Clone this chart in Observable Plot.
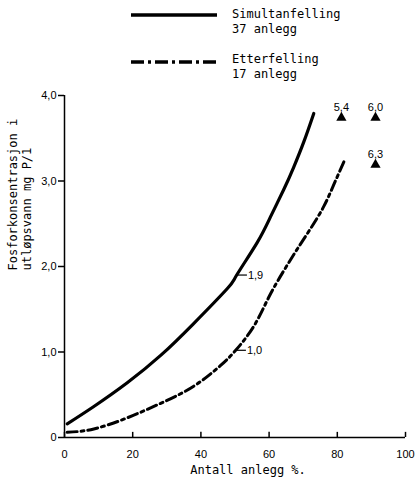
<!DOCTYPE html>
<html><head><meta charset="utf-8">
<script src="https://cdn.jsdelivr.net/npm/d3@7"></script>
<script src="https://cdn.jsdelivr.net/npm/@observablehq/plot@0.6"></script>
<style>
body{margin:0;background:#fff;}
#wrap{position:relative;width:416px;height:483px;}
#legend{position:absolute;left:0;top:0;}
</style></head><body>
<div id="wrap"><div id="chart"></div><div id="legend"></div></div>
<script>
// Data
const simX = [0.8, 8.5, 18.4, 28.2, 37.8, 47.7, 50.5, 56.5, 60.4, 64.3, 67.2, 70.2, 73.1];
const simY = [0.16, 0.36, 0.64, 0.96, 1.33, 1.74, 1.9, 2.28, 2.58, 2.9, 3.16, 3.46, 3.79];
const etterX = [0.8, 8.6, 18.4, 28.2, 37.9, 45.7, 50.2, 55.5, 59.9, 64.3, 68.2, 72.1, 76.0, 79.0, 82.0];
const etterY = [0.06, 0.10, 0.23, 0.40, 0.60, 0.84, 1.02, 1.30, 1.64, 1.95, 2.20, 2.44, 2.70, 2.96, 3.23];
const triX = [81.2, 91.2, 91.2];
const triY = [3.74, 3.74, 3.19];
const triLabels = ["5,4", "6,0", "6,3"];
const annX = [50.5, 50.2];
const annY = [1.9, 1.02];
const annLabels = ["1,9", "1,0"];
const xTicks = [0, 20, 40, 60, 80, 100];
const xTickLabels = ["0", "20", "40", "60", "80", "100"];
const yTicks = [0, 1, 2, 3, 4];
const yTickLabels = ["0", "1,0", "2,0", "3,0", "4,0"];
const seriesNames = ["Simultanfelling", "Etterfelling"];
const seriesCounts = ["37 anlegg", "17 anlegg"];
const xLabel = "Antall anlegg %.";
const yLabel = "Fosforkonsentrasjon i\nutløpsvann mg P/1";

const sim = simX.map((x, i) => ({x, y: simY[i]}));
const etter = etterX.map((x, i) => ({x, y: etterY[i]}));
const tri = triX.map((x, i) => ({x, y: triY[i], label: triLabels[i]}));
const ann = annX.map((x, i) => ({x, y: annY[i], label: annLabels[i]}));
const xMap = new Map(xTicks.map((t, i) => [t, xTickLabels[i]]));
const yMap = new Map(yTicks.map((t, i) => [t, yTickLabels[i]]));
const mono = "'DejaVu Sans Mono', monospace";
const dashDot = "10,4,3,4";

const chart = Plot.plot({
  width: 416, height: 483,
  marginTop: 95, marginBottom: 46, marginLeft: 64, marginRight: 11,
  x: {domain: [0, 100]},
  y: {domain: [0, 4]},
  style: {fontFamily: "'Liberation Sans', Arial, sans-serif", fontSize: "11px", color: "#000", background: "#fff"},
  marks: [
    Plot.axisY(yTicks, {tickSize: 6, tickPadding: 2, strokeWidth: 1.5, tickFormat: d => yMap.get(d), label: null}),
    Plot.axisX(xTicks, {tickSize: 0, tickPadding: 13, tickFormat: d => xMap.get(d), label: null}),
    Plot.ruleX(xTicks, {x: d => d, y1: 0, y2: 0.06, strokeWidth: 1.5}),
    Plot.ruleX([0], {y1: 0, y2: 4, strokeWidth: 1.5}),
    Plot.ruleY([0], {x1: 0, x2: 100, strokeWidth: 1.5}),
    Plot.line(sim, {x: "x", y: "y", curve: "natural", strokeWidth: 3.2, stroke: "#000"}),
    Plot.line(etter, {x: "x", y: "y", curve: "natural", strokeWidth: 3, stroke: "#000", strokeDasharray: dashDot}),
    Plot.link(ann, {x1: "x", y1: "y", x2: d => d.x + 3, y2: "y", stroke: "#000", strokeWidth: 1.2}),
    Plot.text(ann, {x: d => d.x + 3, y: "y", text: "label", textAnchor: "start", dx: 1, fontSize: 11}),
    Plot.dot(tri, {x: "x", y: "y", symbol: "triangle", r: 3.8, fill: "#000", stroke: "none"}),
    Plot.text(tri, {x: "x", y: "y", text: "label", dy: -10, fontSize: 11}),
    Plot.text([xLabel], {frameAnchor: "bottom", dx: 13, dy: 36, fontFamily: mono, fontSize: 12}),
    Plot.text([yLabel], {frameAnchor: "left", rotate: -90, dx: -45, dy: 4, lineHeight: 1.17, fontFamily: mono, fontSize: 12})
  ]
});
document.getElementById("chart").appendChild(chart);

// Legend
const lg = d3.select("#legend").append("svg").attr("width", 416).attr("height", 85);
const legendRows = [
  {y: 15, dash: null, ty: 18},
  {y: 62, dash: "13,4,3,4", ty: 63}
];
legendRows.forEach((r, i) => {
  lg.append("line").attr("x1", 131).attr("x2", 217).attr("y1", r.y).attr("y2", r.y)
    .attr("stroke", "#000").attr("stroke-width", 3.6).attr("stroke-dasharray", r.dash);
  const t = lg.append("text").attr("x", 232).attr("y", r.ty)
    .attr("font-family", mono).attr("font-size", 12).attr("fill", "#000");
  t.append("tspan").attr("x", 232).text(seriesNames[i]);
  t.append("tspan").attr("x", 232).attr("dy", 14.5).text(seriesCounts[i]);
});
</script>
</body></html>
